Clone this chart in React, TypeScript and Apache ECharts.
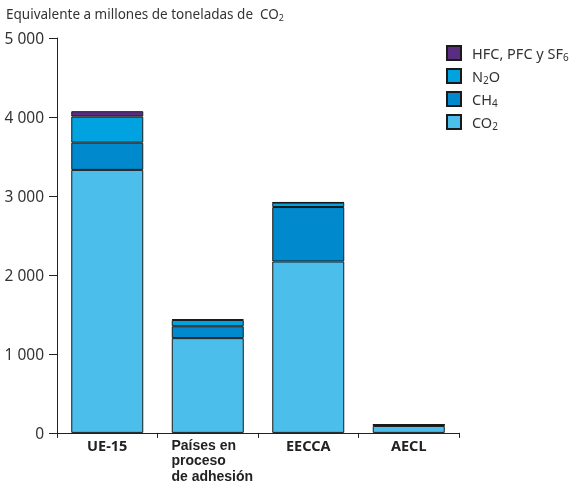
import React, { useEffect, useRef } from 'react';
import * as echarts from 'echarts';

const categories = ['UE-15', 'Países en proceso de adhesión', 'EECCA', 'AECL'];
const categoryLabels = ['UE-15', '{p|Países en}\n{p|proceso}\n{p|de adhesión}', 'EECCA', 'AECL'];
const seriesNames = ['CO2', 'CH4', 'N2O', 'HFC, PFC y SF6'];
const legendLabels = ['CO{s|2}', 'CH{s|4}', 'N{s|2}O', 'HFC, PFC y SF{s|6}'];
const co2 = [3330, 1200, 2170, 88];
const ch4 = [345, 150, 690, 10];
const n2o = [330, 80, 55, 5];
const hfc = [68, 10, 5, 3];
const yTicks = [0, 1000, 2000, 3000, 4000, 5000];
const yTickLabels = ['0', '1 000', '2 000', '3 000', '4 000', '5 000'];
const colors = ['#4CBEEC', '#0089CC', '#00A3E0', '#5A2D82'];

export default function App() {
  const ref = useRef<HTMLDivElement>(null);
  useEffect(() => {
    if (!ref.current) return;
    const chart = echarts.init(ref.current, null, { renderer: 'svg' });
    const dataSets = [co2, ch4, n2o, hfc];
    const font = '"Noto Sans", sans-serif';
    const tightFont = '"Liberation Sans", Arial, sans-serif';
    chart.setOption({
      animation: false,
      textStyle: { fontFamily: font },
      title: {
        text: 'Equivalente a millones de toneladas de  CO{s|2}',
        left: 1,
        top: 1,
        textStyle: {
          fontSize: 13.5,
          fontWeight: 'normal',
          color: '#333',
          fontFamily: font,
          rich: {
            s: { fontSize: 9, padding: [7, 0, 0, 0], color: '#333', fontFamily: font },
          },
        },
      },
      legend: {
        orient: 'vertical',
        left: 441,
        top: 40,
        itemWidth: 14,
        itemHeight: 14,
        itemGap: 6,
        icon: 'rect',
        data: [seriesNames[3], seriesNames[2], seriesNames[1], seriesNames[0]],
        formatter: (name: string) => legendLabels[seriesNames.indexOf(name)],
        textStyle: {
          fontSize: 14.5,
          color: '#333',
          fontFamily: font,
          padding: [0, 0, 0, 6],
          rich: {
            s: { fontSize: 10, padding: [8, 0, 0, 0], color: '#333', fontFamily: font },
          },
        },
      },
      grid: { left: 57, right: 127, top: 38, bottom: 51, containLabel: false },
      xAxis: {
        type: 'category',
        data: categories,
        axisLine: { lineStyle: { color: '#222', width: 1 } },
        axisTick: { show: true, length: 5, lineStyle: { color: '#222' } },
        axisLabel: {
          interval: 0,
          margin: 4,
          fontSize: 14.5,
          fontWeight: 'bold',
          color: '#222',
          lineHeight: 15.7,
          fontFamily: font,
          formatter: (v: string) => categoryLabels[categories.indexOf(v)],
          rich: {
            p: {
              fontSize: 14,
              fontWeight: 'bold',
              color: '#222',
              lineHeight: 15.7,
              align: 'left',
              padding: [0, 0, 0, 9],
              fontFamily: tightFont,
            },
          },
        },
      },
      yAxis: {
        type: 'value',
        min: 0,
        max: 5000,
        interval: 1000,
        axisLine: { show: true, lineStyle: { color: '#222', width: 1 } },
        axisTick: { show: true, length: 8, lineStyle: { color: '#222' } },
        splitLine: { show: false },
        axisLabel: {
          margin: 13,
          fontSize: 15.5,
          color: '#333',
          fontFamily: font,
          formatter: (v: number) => yTickLabels[yTicks.indexOf(v)],
        },
      },
      series: seriesNames.map((name, i) => ({
        name,
        type: 'bar',
        stack: 'total',
        barWidth: 72,
        data: dataSets[i],
        itemStyle: { color: colors[i], borderColor: '#1a1a1a', borderWidth: 1 },
      })),
    });
    return () => chart.dispose();
  }, []);
  return (
    <div
      ref={ref}
      style={{ position: 'fixed', left: 0, top: 0, width: 586, height: 484 }}
    />
  );
}
